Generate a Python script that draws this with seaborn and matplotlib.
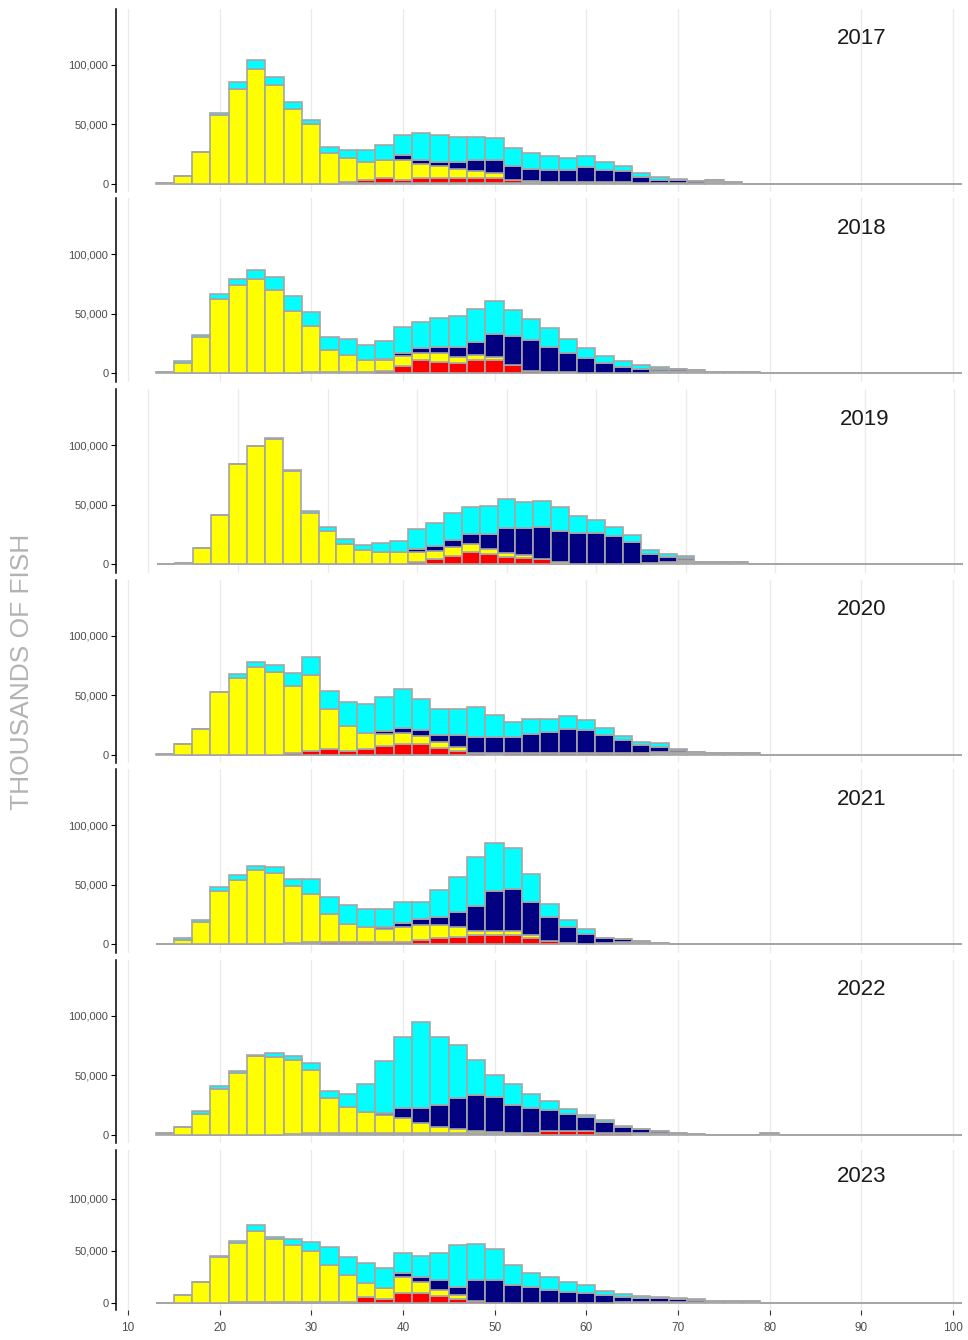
import numpy as np
import pandas as pd
import seaborn as sns
from matplotlib import pyplot as plt
from matplotlib.ticker import FuncFormatter

# catch at length (thousands of fish), 2 cm bins; first bin centre noted per year
# order of lists in each year: grey, red, yellow, navy, cyan
first_2017 = 14
grey_2017 = [0.5, 0, 0, 0, 0, 0, 0, 0, 0, 0.3, 1.5, 0.5, 0.5, 0.5, 0.5, 0.5, 0.5, 0.5, 0.5, 0.8, 2.5, 2, 2, 1.4, 1.7, 2, 0.6, 0.6, 1, 0.8, 3, 2, 0.3]
red_2017 = [0, 0, 0, 0, 0, 0, 0, 0, 0, 0, 0, 2.5, 4.5, 3, 4.5, 4.5, 4.5, 4.5, 4.5, 2.6, 0, 0, 0, 0, 0, 0, 0, 0, 0, 0, 0, 0, 0]
yellow_2017 = [0, 7, 27, 58, 80, 97, 83, 63, 50, 25.5, 20.5, 15.5, 15, 16.8, 11.6, 10, 7.4, 5.7, 4.6, 0, 0, 0, 0, 0, 0, 0, 0, 0, 0, 0, 0, 0, 0]
navy_2017 = [0, 0, 0, 0, 0, 0, 0, 0, 0, 0, 0, 0, 0, 4.2, 3.9, 3.6, 6.4, 9.3, 10.6, 11.5, 10.4, 9.5, 9.5, 13.2, 10, 8.6, 5.6, 3, 2.7, 1.4, 0, 0, 0]
cyan_2017 = [0, 0, 0, 2, 6, 7, 7, 6, 4, 5.5, 6.7, 10, 13, 17, 22, 22.5, 20.8, 19.6, 18.6, 15.4, 13.1, 11.7, 10, 8.9, 7, 4.5, 3.3, 2.3, 0.6, 0, 0, 0, 0]

first_2018 = 14
grey_2018 = [1.4, 0, 0, 0, 0, 0, 0, 0, 1, 1, 1, 1, 0.5, 0.5, 0.5, 0.5, 0.5, 0.5, 0.5, 0.5, 0.5, 1.4, 1.4, 0.5, 0.5, 0.5, 0.5, 1.5, 2, 2.8, 1.4, 1.4, 1.4]
red_2018 = [0, 0, 0, 0, 0, 0, 0, 0, 0, 0, 0, 0, 1.5, 5.6, 10.6, 9.2, 7.8, 10.6, 10.6, 6.4, 1.2, 0, 0, 0, 0, 0, 0, 0, 0, 0, 0, 0, 0]
yellow_2018 = [0, 9, 30.5, 62, 74, 79, 70, 52, 39, 18.5, 14.6, 10, 9, 8.4, 5.6, 7, 5.6, 4.5, 2.8, 0.3, 0, 0, 0, 0, 0, 0, 0, 0, 0, 0, 0, 0, 0]
navy_2018 = [0, 0, 0, 0, 0, 0, 0, 0, 0, 0, 0, 0, 1, 2.2, 4.2, 5.5, 8.3, 10.8, 18.9, 23.7, 26, 20.8, 15.3, 12, 7.8, 5.1, 2.8, 2, 1.5, 0, 0, 0, 0]
cyan_2018 = [0, 1, 1.5, 4.4, 5.6, 7.5, 11, 12.7, 11.2, 11, 12.8, 13, 14.7, 22.5, 22.2, 24.5, 25.9, 27.5, 28.1, 21.9, 18, 15.6, 11.7, 8.4, 6.2, 4.7, 3.4, 1.5, 0.3, 0, 0, 0, 0]

first_2019 = 12
grey_2019 = [0, 1.4, 0.3, 0, 0, 0, 0, 0, 0, 0, 0, 0, 0, 0, 0, 0, 0, 0, 0, 0, 0, 0.5, 0.5, 0.5, 0.5, 0.5, 0.5, 1, 2, 3.3, 1.7, 1.7, 1.7]
red_2019 = [0, 0, 0, 0, 0, 0, 0, 0, 0, 0, 0, 0, 0, 0, 1.7, 4.4, 7.2, 10, 8.6, 6.4, 5, 3.6, 0, 0, 0, 0, 0, 0, 0, 0, 0, 0, 0]
yellow_2019 = [0, 0, 13, 41.5, 84, 99.7, 105, 78, 43, 28, 16.9, 12, 10, 10, 8.3, 7, 6.9, 6.9, 4.1, 3.3, 2.8, 0.5, 1.5, 0, 0, 0, 0, 0, 0, 0, 0, 0, 0]
navy_2019 = [0, 0, 0, 0, 0, 0, 0, 0, 0, 0, 0, 0, 0, 0, 2.5, 3.8, 6.7, 8.9, 13.1, 20.8, 22.7, 26.4, 26, 26, 26, 23.3, 17.8, 8, 4.5, 2, 0, 0, 0]
cyan_2019 = [0, 0, 0, 0, 0, 0, 1.5, 1.5, 1.5, 3, 4.7, 4, 7.5, 9.7, 16.9, 19.1, 22.1, 22.1, 23.5, 24.6, 22.1, 22.1, 19.7, 13.8, 11, 7.2, 6, 3, 2.5, 1.5, 0, 0, 0]

first_2020 = 14
grey_2020 = [0.5, 0, 0, 0, 0, 0, 0, 0, 0, 0, 0, 0, 0, 0, 0, 0, 0, 0, 1.5, 0.3, 0, 0, 0, 0, 0, 0, 0, 2.5, 2.5, 2.8, 1.4, 1.4, 1.4]
red_2020 = [0, 0, 0, 0, 0, 0, 0, 2, 3.3, 4.7, 3.6, 4.7, 7.5, 8.9, 8.9, 6.1, 3.3, 1.4, 0, 1.1, 1.4, 1.4, 1.4, 1.4, 1.4, 1.4, 1.4, 0, 0, 0, 0, 0, 0]
yellow_2020 = [0, 9.1, 21.6, 52.6, 64.5, 74, 70, 55.6, 64, 34, 20.5, 13.9, 9.7, 9.7, 6.9, 4.4, 3.6, 0.5, 0, 0, 0, 0, 0, 0, 0, 0, 0, 0, 0, 0, 0, 0, 0]
navy_2020 = [0, 0, 0, 0, 0, 0, 0, 0, 0, 0, 0, 0, 2.7, 4.1, 5, 6.1, 9.7, 13.3, 13.7, 13.8, 16.6, 18, 20.8, 19.4, 15.2, 11.1, 6.9, 4.5, 1.5, 0, 0, 0, 0]
cyan_2020 = [0, 0, 0, 0, 3.4, 4.4, 5.9, 11.1, 15.2, 15, 20.5, 24.3, 28.6, 32.7, 26.3, 22.2, 22.2, 25, 18, 12.5, 11.9, 10.5, 10.2, 8.2, 6.4, 3.3, 2.8, 3.2, 1, 0, 0, 0, 0]

first_2021 = 14
grey_2021 = [0, 0.5, 0, 0, 0, 0, 0, 0.7, 2, 0, 0, 0, 0, 0, 0, 0, 0, 0, 0, 0, 0, 0.5, 1.4, 0.5, 1, 2.2, 1.8, 1.4]
red_2021 = [0, 0, 0, 0, 0, 0, 0, 0, 0, 2.2, 2.2, 2.2, 2.2, 2.2, 3.7, 5.1, 6.5, 7.9, 7.9, 7.9, 5.6, 2.2, 0, 0, 0, 0, 0, 0]
yellow_2021 = [0, 3.5, 18.5, 45, 54, 62.7, 60, 48.5, 40, 23.4, 14.9, 12.7, 11, 12.7, 12.6, 11.2, 7.8, 3.6, 3.6, 3.6, 2.3, 0, 0, 0, 0, 0, 0, 0]
navy_2021 = [0, 0, 0, 0, 0, 0, 0, 0, 0, 0, 0, 0, 1.7, 2.8, 5.1, 7, 12.4, 20.8, 33.5, 34.9, 27.2, 20.6, 13.5, 8.2, 4.3, 2, 1, 0]
cyan_2021 = [0, 1.6, 2, 3, 3.9, 3.3, 4.6, 5.6, 12.6, 14, 15.5, 14.6, 14.6, 17.4, 13.7, 21.9, 29.5, 40.8, 40.1, 34.5, 23.9, 10.7, 5.6, 3.9, 0.3, 0, 0, 0]

first_2022 = 14
grey_2022 = [1.4, 0, 0, 0, 0, 0, 0, 0.5, 1.4, 1.4, 0.5, 0.5, 0.5, 0.5, 2, 2, 2, 2, 2.5, 2, 0, 0, 0, 0, 0, 0, 0.5, 1.9, 1.7, 0.5, 0, 0, 0, 1.5]
red_2022 = [0, 0, 0, 0, 0, 0, 0, 0, 0, 0, 1.4, 1.4, 1.4, 1.4, 0, 0, 0, 0, 0, 0, 2, 3.4, 3.4, 3, 2, 1.5, 1, 0, 0, 0, 0, 0, 0, 0]
yellow_2022 = [0, 7, 17.7, 38.5, 52, 66, 65.5, 62.2, 53.4, 30, 21.6, 17.4, 14.6, 12.1, 8.4, 4.5, 2.8, 1.7, 0, 0, 0, 0, 0, 0, 0, 0, 0, 0, 0, 0, 0, 0, 0, 0]
navy_2022 = [0, 0, 0, 0, 0, 0, 0, 0, 0, 0, 0, 0, 2.3, 8.4, 12.1, 18.8, 26.1, 30, 29, 23.3, 21, 17.7, 14, 12, 8.5, 5, 3.5, 1.5, 0, 0, 0, 0, 0, 0]
cyan_2022 = [0, 0, 2.8, 2.8, 2, 1.2, 3.3, 3.3, 5.6, 5.9, 10.7, 23.3, 43.5, 60.1, 72.2, 56.7, 44.4, 29.5, 19.1, 17.4, 11.3, 7.8, 4.2, 2, 2, 1, 0, 0, 0, 0, 0, 0, 0, 0]

first_2023 = 14
grey_2023 = [0.3, 0, 0, 0, 0, 0, 0, 0, 0, 0, 0, 0, 0, 0, 0, 0, 0, 0, 0, 0, 0, 0, 0, 0, 0, 0.5, 0.5, 0.5, 0.5, 0.5, 0.5, 0.5, 0.5, 0.3]
red_2023 = [0, 0, 0, 0, 1, 1, 1, 1, 1, 1, 1, 5.8, 3.8, 9.6, 9.6, 6.7, 3.8, 2, 0, 0, 0, 0, 0, 0, 0, 0, 0, 0, 0, 0, 0, 0, 0, 0]
yellow_2023 = [0, 7.7, 20, 44, 56.7, 68, 60.6, 54.8, 49, 35.5, 26, 13.2, 10.6, 15.4, 10.4, 5.8, 3.6, 0, 0, 0, 0, 0, 0, 0, 0, 0, 0, 0, 0, 0, 0, 0, 0, 0]
navy_2023 = [0, 0, 0, 0, 0, 0, 0, 0, 0, 0, 0, 0, 0, 3.9, 5, 9.5, 8, 20, 22, 17.3, 15.4, 12.5, 10.6, 9.6, 7.7, 5.3, 4.3, 4.3, 3.3, 2.4, 1.5, 1.5, 1.5, 0]
cyan_2023 = [0, 0, 0, 1, 1.9, 6, 1.9, 5.8, 8.7, 17.4, 17, 19.5, 19.3, 19.1, 20.2, 26, 40.4, 34.7, 30, 19.2, 13.5, 12.5, 9.6, 7.7, 3.8, 2.9, 1.9, 1, 1, 0.9, 0, 0, 0, 0]

years = [2017, 2018, 2019, 2020, 2021, 2022, 2023]
groups = ["cyan", "navy", "yellow", "red", "grey"]  # top of stack first
colours = {"cyan": "#00FFFF", "navy": "#000080", "yellow": "#FFFF00",
           "red": "#FF0000", "grey": "#A9A9A9"}
x_ticks = [10, 20, 30, 40, 50, 60, 70, 80, 90, 100]
y_ticks = [0, 50000, 100000]
last_edge = 101  # empty bins drawn as flat lines up to here

plt.rcParams["font.family"] = ["Liberation Sans", "DejaVu Sans"]

W, H = 968, 1340
fig = plt.figure(figsize=(W / 100, H / 100), dpi=100)

panel_tops = [9, 198.3, 389.3, 580, 769.3, 960, 1150]
panel_bottoms = [192.3, 381.6, 572.6, 763.3, 952.6, 1143.3, 1310.3]
left_px, right_px = 116, 963

for i, yr in enumerate(years):
    g = globals()
    first = g[f"first_{yr}"]
    rows = []
    for grp in groups:
        vals = g[f"{grp}_{yr}"]
        for k, v in enumerate(vals):
            rows.append({"length": first + 2 * k, "group": grp, "fish": v * 1000})
    df = pd.DataFrame(rows)

    top, bot = panel_tops[i], panel_bottoms[i]
    ax = fig.add_axes([left_px / W, 1 - bot / H, (right_px - left_px) / W, (bot - top) / H])
    ax.set_axisbelow(True)
    sns.histplot(
        data=df, x="length", weights="fish", hue="group", hue_order=groups,
        palette=colours, multiple="stack", binwidth=2, binrange=(first - 1, last_edge),
        edgecolor="#A6A6A6", linewidth=1.2, alpha=1, legend=False, ax=ax,
    )
    if yr == 2019:
        ax.set_xlim(6.37, 101.0)
    else:
        ax.set_xlim(8.69, 101.1)
    ax.set_ylim(-7000, 147000)
    ax.set_xticks(x_ticks)
    ax.set_yticks(y_ticks)
    ax.yaxis.set_major_formatter(FuncFormatter(lambda v, p: f"{int(v):,}"))
    ax.grid(axis="x", color="#EBEBEB", linewidth=1)
    ax.grid(axis="y", visible=False)
    for s in ["top", "right", "bottom"]:
        ax.spines[s].set_visible(False)
    ax.spines["left"].set_color("black")
    ax.spines["left"].set_linewidth(1.1)
    ax.tick_params(axis="y", direction="out", length=3.5, width=0.8, color="black",
                   labelsize=8, labelcolor="#4D4D4D", pad=2)
    if i == len(years) - 1:
        ax.tick_params(axis="x", direction="out", length=3.5, width=0.8, color="#333333",
                       labelsize=8.5, labelcolor="#4D4D4D", pad=5)
    else:
        ax.tick_params(axis="x", length=0, labelbottom=False)
    ax.set_xlabel("")
    ax.set_ylabel("")
    ax.text(90, 122000, str(yr), ha="center", va="center", fontsize=16, color="#1A1A1A")

fig.text(22 / W, 1 - 672 / H, "THOUSANDS OF FISH", rotation=90, ha="center", va="center",
         fontsize=19, color="#B3B3B3")

fig.savefig("out.png", dpi=100)
